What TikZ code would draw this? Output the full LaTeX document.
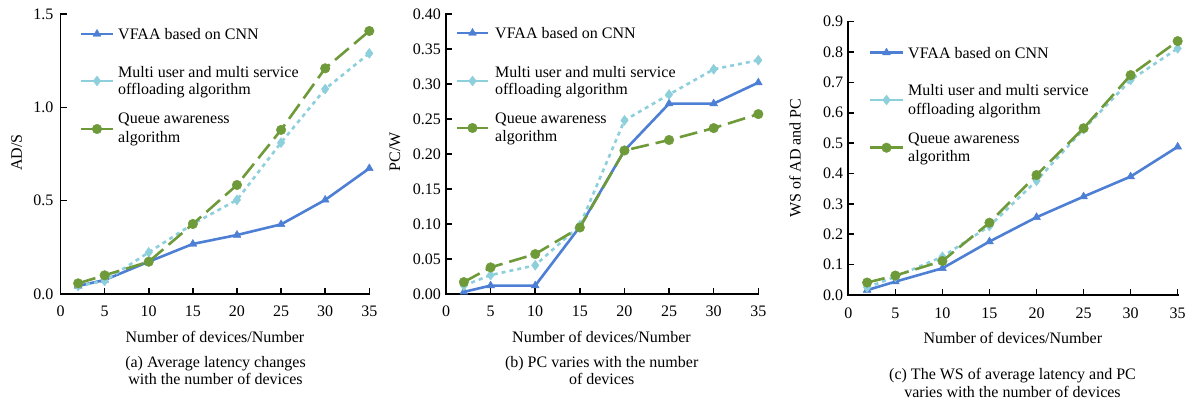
\documentclass[tikz,border=0pt]{standalone}
\usepackage{fontspec}
\setmainfont{Liberation Serif}
\usetikzlibrary{plotmarks}
\definecolor{vfaablue}{HTML}{4D7FD4}
\definecolor{muscyan}{HTML}{8ECFDC}
\definecolor{queuegreen}{HTML}{6E9A3A}
\tikzset{
  lbl/.style={font=\fontsize{16}{18}\selectfont, inner sep=0pt},
  axisline/.style={line width=1.8pt, black, line cap=rect},
  tickmark/.style={line width=1.6pt, black},
  vfaa/.style={vfaablue, line width=2.6pt, line join=round,
    mark=triangle*, mark size=4.6pt, mark options={solid, fill=vfaablue, line width=0.4pt}},
  muso/.style={muscyan, line width=2.6pt, line join=round, dash pattern=on 4pt off 4pt,
    mark=diamond*, mark size=5pt, mark options={solid, fill=muscyan, line width=0.4pt}},
  musolegend/.style={muso, solid},
  queue/.style={queuegreen, line width=2.6pt, line join=round, dash pattern=on 18pt off 7pt,
    mark=*, mark size=4.8pt, mark options={solid, fill=queuegreen, line width=0.4pt}},
  queuelegend/.style={queue, solid},
}
\begin{document}
\begin{tikzpicture}
\useasboundingbox (0,0) rectangle (1192pt,404pt);
\fill[white] (0,0) rectangle (1192pt,404pt);

% ---------------- (a) average latency ----------------
\begin{scope}[shift={(60.5pt,110pt)}, x=8.823pt, y=186.67pt]
  \draw[axisline] (0,1.5) -- (0,0) -- (35,0);
  \foreach \t in {5,10,...,35} \draw[tickmark] (\t,0) -- ++(0,6pt);
  \foreach \v in {0.5,1.0,1.5} \draw[tickmark] (0,\v) -- ++(6pt,0);
  \foreach \t in {0,5,...,35} \node[lbl, yshift=-17.7pt] (ax\t) at (\t,0) {\t};
  \foreach \v/\s [count=\i] in {0/0.0,0.5/0.5,1/1.0,1.5/1.5}
    \node[lbl, anchor=east, xshift=-7pt] (ay\i) at (0,\v) {\s};
  \draw[vfaa] plot coordinates {(2,0.043) (5,0.075) (10,0.173) (15,0.268) (20,0.316) (25,0.373) (30,0.504) (35,0.673)};
  \draw[muso] plot coordinates {(2,0.043) (5,0.07) (10,0.223) (15,0.375) (20,0.504) (25,0.811) (30,1.098) (35,1.289)};
  \draw[queue] plot coordinates {(2,0.057) (5,0.1) (10,0.173) (15,0.375) (20,0.584) (25,0.879) (30,1.209) (35,1.409)};
\end{scope}
\node[lbl, rotate=90] (ya) at (16.7pt,251.5pt) {AD/S};
\node[lbl, anchor=base] (xa) at (215pt,61.7pt) {Number of devices/Number};
\node[lbl, anchor=base] (capa1) at (215.5pt,36.7pt) {(a) Average latency changes};
\node[lbl, anchor=base] (capa2) at (215.5pt,19pt) {with the number of devices};
% legend (a)
\draw[vfaa, mark indices={2}] plot coordinates {(81pt,370pt) (97pt,370pt) (113pt,370pt)};
\draw[musolegend, mark indices={2}] plot coordinates {(81pt,323pt) (97pt,323pt) (113pt,323pt)};
\draw[queuelegend, mark indices={2}] plot coordinates {(81pt,275pt) (97pt,275pt) (113pt,275pt)};
\node[lbl, anchor=base west] (la1) at (118pt,364.6pt) {VFAA based on CNN};
\node[lbl, anchor=base west] (la2) at (118pt,326.7pt) {Multi user and multi service};
\node[lbl, anchor=base west] (la3) at (118pt,309pt) {offloading algorithm};
\node[lbl, anchor=base west] (la4) at (118pt,280pt) {Queue awareness};
\node[lbl, anchor=base west] (la5) at (118pt,261.3pt) {algorithm};

% ---------------- (b) power consumption ----------------
\begin{scope}[shift={(446pt,110pt)}, x=8.923pt, y=700pt]
  \draw[axisline] (0,0.4) -- (0,0) -- (35,0);
  \foreach \t in {5,10,...,35} \draw[tickmark] (\t,0) -- ++(0,6pt);
  \foreach \v in {0.05,0.10,...,0.41} \draw[tickmark] (0,\v) -- ++(6pt,0);
  \foreach \t in {0,5,...,35} \node[lbl, yshift=-17.7pt] (bx\t) at (\t,0) {\t};
  \foreach \v/\s [count=\i] in {0/0.00,0.05/0.05,0.1/0.10,0.15/0.15,0.2/0.20,0.25/0.25,0.3/0.30,0.35/0.35,0.4/0.40}
    \node[lbl, anchor=east, xshift=-5pt] (by\i) at (0,\v) {\s};
  \draw[vfaa] plot coordinates {(2,0.003) (5,0.012) (10,0.012) (15,0.096) (20,0.205) (25,0.272) (30,0.272) (35,0.302)};
  \draw[muso] plot coordinates {(2,0.012) (5,0.027) (10,0.041) (15,0.098) (20,0.248) (25,0.285) (30,0.321) (35,0.334)};
  \draw[queue] plot coordinates {(2,0.017) (5,0.038) (10,0.057) (15,0.095) (20,0.205) (25,0.22) (30,0.237) (35,0.257)};
\end{scope}
\node[lbl, rotate=90] (yb) at (395pt,252pt) {PC/W};
\node[lbl, anchor=base] (xb) at (601.5pt,61.7pt) {Number of devices/Number};
\node[lbl, anchor=base] (capb1) at (601.7pt,36.7pt) {(b) PC varies with the number};
\node[lbl, anchor=base] (capb2) at (601.7pt,19pt) {of devices};
% legend (b)
\draw[vfaa, mark indices={2}] plot coordinates {(457pt,371pt) (472.5pt,371pt) (488pt,371pt)};
\draw[musolegend, mark indices={2}] plot coordinates {(457pt,323pt) (472.5pt,323pt) (488pt,323pt)};
\draw[queuelegend, mark indices={2}] plot coordinates {(457pt,276pt) (472.5pt,276pt) (488pt,276pt)};
\node[lbl, anchor=base west] (lb1) at (495pt,365.5pt) {VFAA based on CNN};
\node[lbl, anchor=base west] (lb2) at (495pt,326.7pt) {Multi user and multi service};
\node[lbl, anchor=base west] (lb3) at (495pt,309pt) {offloading algorithm};
\node[lbl, anchor=base west] (lb4) at (495pt,280.7pt) {Queue awareness};
\node[lbl, anchor=base west] (lb5) at (495pt,262.3pt) {algorithm};

% ---------------- (c) weighted sum ----------------
\begin{scope}[shift={(848.3pt,109pt)}, x=9.411pt, y=303.7pt]
  \draw[axisline] (0,0.9) -- (0,0) -- (35,0);
  \foreach \t in {5,10,...,35} \draw[tickmark] (\t,0) -- ++(0,6pt);
  \foreach \v in {0.1,0.2,...,0.91} \draw[tickmark] (0,\v) -- ++(6pt,0);
  \foreach \t in {0,5,...,35} \node[lbl, yshift=-18.7pt] (cx\t) at (\t,0) {\t};
  \foreach \v/\s [count=\i] in {0/0.0,0.1/0.1,0.2/0.2,0.3/0.3,0.4/0.4,0.5/0.5,0.6/0.6,0.7/0.7,0.8/0.8,0.9/0.9}
    \node[lbl, anchor=east, xshift=-5pt] (cy\i) at (0,\v) {\s};
  \draw[vfaa] plot coordinates {(2,0.016) (5,0.044) (10,0.088) (15,0.176) (20,0.256) (25,0.324) (30,0.39) (35,0.488)};
  \draw[muso] plot coordinates {(2,0.025) (5,0.06) (10,0.126) (15,0.227) (20,0.376) (25,0.546) (30,0.708) (35,0.812)};
  \draw[queue] plot coordinates {(2,0.041) (5,0.064) (10,0.112) (15,0.238) (20,0.395) (25,0.549) (30,0.724) (35,0.836)};
\end{scope}
\node[lbl, rotate=90] (yc) at (795pt,246pt) {WS of AD and PC};
\node[lbl, anchor=base] (xc) at (1012.8pt,60pt) {Number of devices/Number};
\node[lbl, anchor=base] (capc1) at (1012.5pt,24pt) {(c) The WS of average latency and PC};
\node[lbl, anchor=base] (capc2) at (1012.5pt,6.7pt) {varies with the number of devices};
% legend (c)
\draw[vfaa, mark indices={2}] plot coordinates {(870pt,351.3pt) (886.5pt,351.3pt) (903pt,351.3pt)};
\draw[musolegend, mark indices={2}] plot coordinates {(870pt,304pt) (886.5pt,304pt) (903pt,304pt)};
\draw[queuelegend, mark indices={2}] plot coordinates {(870pt,256.3pt) (886.5pt,256.3pt) (903pt,256.3pt)};
\node[lbl, anchor=base west] (lc1) at (908pt,345.7pt) {VFAA based on CNN};
\node[lbl, anchor=base west] (lc2) at (908pt,308pt) {Multi user and multi service};
\node[lbl, anchor=base west] (lc3) at (908pt,289.7pt) {offloading algorithm};
\node[lbl, anchor=base west] (lc4) at (908pt,260.7pt) {Queue awareness};
\node[lbl, anchor=base west] (lc5) at (908pt,242.3pt) {algorithm};
\end{tikzpicture}
\end{document}
